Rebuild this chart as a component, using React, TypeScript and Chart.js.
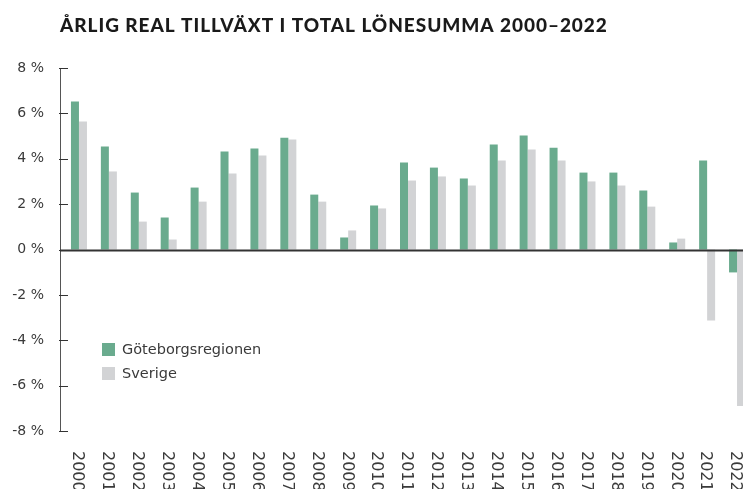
import React, { useEffect, useRef } from "react";
import { Chart, registerables } from "chart.js";

Chart.register(...registerables);

const TITLE = "ÅRLIG REAL TILLVÄXT I TOTAL LÖNESUMMA 2000–2022";
const years = [
  "2000", "2001", "2002", "2003", "2004", "2005", "2006", "2007", "2008", "2009", "2010", "2011",
  "2012", "2013", "2014", "2015", "2016", "2017", "2018", "2019", "2020", "2021", "2022",
];
const goteborg = [
  6.52, 4.54, 2.51, 1.41, 2.73, 4.32, 4.45, 4.93, 2.42, 0.53, 1.94, 3.83,
  3.61, 3.13, 4.63, 5.02, 4.49, 3.39, 3.39, 2.6, 0.31, 3.92, -1.01,
];
const sverige = [
  5.64, 3.44, 1.23, 0.44, 2.11, 3.35, 4.14, 4.85, 2.11, 0.84, 1.81, 3.04,
  3.22, 2.82, 3.92, 4.41, 3.92, 3.0, 2.82, 1.89, 0.48, -3.13, -6.9,
];
const seriesNames = ["Göteborgsregionen", "Sverige"];
const seriesColors = ["#6aab8e", "#d2d3d5"];
const yTicks = [-8, -6, -4, -2, 0, 2, 4, 6, 8];

const TEXT = "#3a3a3a";
const FONT = "'DejaVu Sans', sans-serif";

const decorPlugin = {
  id: "decor",
  afterDatasetsDraw(chart: any) {
    const ctx = chart.ctx as CanvasRenderingContext2D;
    const x = chart.scales.x;
    const y = chart.scales.y;
    ctx.save();
    // y axis line
    const axX = 60.5;
    ctx.strokeStyle = "#555";
    ctx.lineWidth = 1;
    ctx.beginPath();
    ctx.moveTo(axX, Math.round(y.getPixelForValue(8)));
    ctx.lineTo(axX, Math.round(y.getPixelForValue(-8)) + 1);
    ctx.stroke();
    // tick marks
    ctx.strokeStyle = "#333";
    yTicks.forEach((v) => {
      const py = Math.round(y.getPixelForValue(v)) + 0.5;
      ctx.beginPath();
      ctx.moveTo(59, py);
      ctx.lineTo(68, py);
      ctx.stroke();
    });
    // zero line
    const zy = Math.round(y.getPixelForValue(0));
    ctx.strokeStyle = "#333";
    ctx.lineWidth = 2;
    ctx.beginPath();
    ctx.moveTo(60, zy + 0.5);
    ctx.lineTo(chart.width, zy + 0.5);
    ctx.stroke();
    // x labels, rotated clockwise
    ctx.fillStyle = TEXT;
    ctx.font = `16px ${FONT}`;
    ctx.textAlign = "left";
    ctx.textBaseline = "middle";
    years.forEach((lab, i) => {
      const px = x.getPixelForValue(i);
      ctx.save();
      ctx.translate(px - 1.5, 451);
      ctx.rotate(Math.PI / 2);
      ctx.fillText(lab, 0, 0);
      ctx.restore();
    });
    // legend
    ctx.font = `14.5px ${FONT}`;
    ctx.textBaseline = "middle";
    seriesNames.forEach((name, i) => {
      const top = 343 + i * 24;
      ctx.fillStyle = seriesColors[i];
      ctx.fillRect(102, top, 13, 13);
      ctx.fillStyle = TEXT;
      ctx.fillText(name, 122, top + 7);
    });
    // title
    ctx.fillStyle = "#1a1a1a";
    ctx.font = "900 19px Lato, sans-serif";
    (ctx as any).letterSpacing = "0.95px";
    ctx.textBaseline = "alphabetic";
    ctx.fillText(TITLE, 60, 32);
    ctx.restore();
  },
};

export default function App() {
  const ref = useRef<HTMLCanvasElement>(null);
  useEffect(() => {
    document.body.style.margin = "0";
    const chart = new Chart(ref.current!, {
      type: "bar",
      data: {
        labels: years,
        datasets: [
          {
            label: seriesNames[0],
            data: goteborg,
            backgroundColor: seriesColors[0],
            categoryPercentage: 0.535,
            barPercentage: 1,
            borderWidth: 0,
          },
          {
            label: seriesNames[1],
            data: sverige,
            backgroundColor: seriesColors[1],
            categoryPercentage: 0.535,
            barPercentage: 1,
            borderWidth: 0,
          },
        ],
      },
      options: {
        responsive: false,
        animation: false,
        devicePixelRatio: 1,
        layout: { padding: { top: 68, bottom: 58, left: 0, right: 8 } },
        plugins: { legend: { display: false }, tooltip: { enabled: false }, title: { display: false } },
        scales: {
          x: {
            grid: { display: false },
            border: { display: false },
            ticks: { display: false },
            afterFit: (s: any) => {
              s.height = 0;
            },
          },
          y: {
            min: -8,
            max: 8,
            grid: { display: false, drawTicks: false },
            border: { display: false },
            ticks: {
              stepSize: 2,
              padding: 20,
              color: TEXT,
              font: { family: FONT, size: 14 },
              callback: (v: any) => `${v} %`,
            },
            afterFit: (s: any) => {
              s.width = 64;
            },
          },
        },
      },
      plugins: [decorPlugin],
    });
    return () => chart.destroy();
  }, []);
  return (
    <div style={{ width: 743, height: 489, overflow: "hidden", position: "relative", background: "#fff" }}>
      <canvas ref={ref} width={760} height={489} style={{ display: "block" }} />
    </div>
  );
}
